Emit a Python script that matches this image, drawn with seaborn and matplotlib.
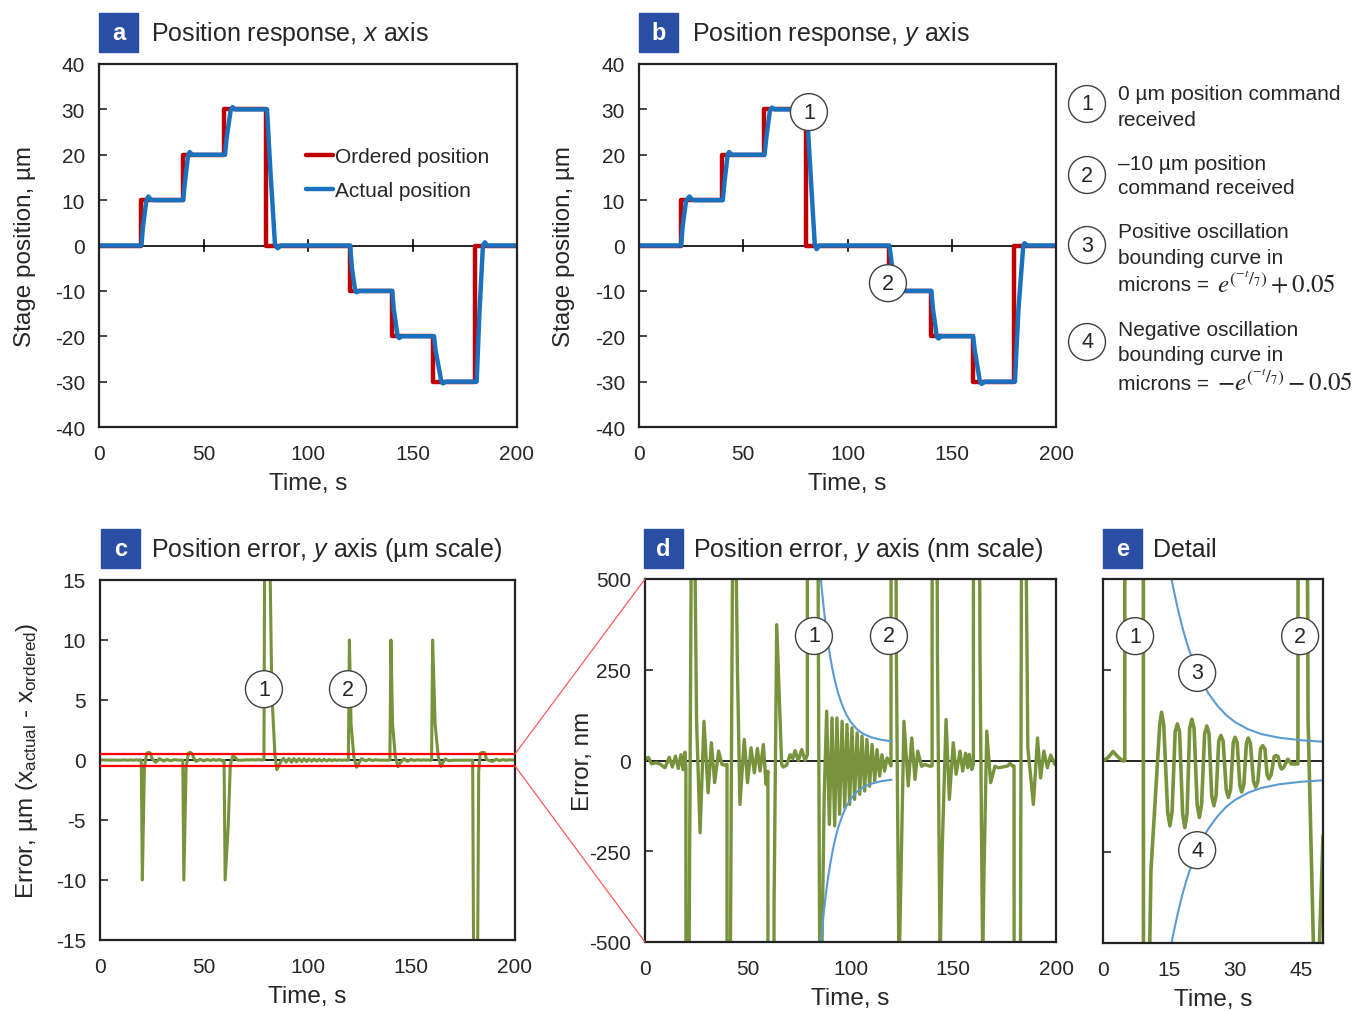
import matplotlib
matplotlib.use("Agg")
import matplotlib.pyplot as plt
from matplotlib.patches import Rectangle, ConnectionPatch
import numpy as np
import seaborn as sns

# ------------------------------------------------------------------
# Data
# ------------------------------------------------------------------
order_t = [0, 20, 40, 60, 80, 120, 140, 160, 180, 200]
order_um = [0, 10, 20, 30, 0, -10, -20, -30, 0, 0]

# actual stage position, x axis (panel a)
xact_t = [0, 20.3, 21.0, 22.6, 23.6, 24.8, 26.5, 40.3, 41.0, 42.6, 43.4, 44.6,
          60.3, 61.0, 63.0, 63.9, 65.2, 80.4, 82.0, 84.2, 85.5, 87.0,
          120.2, 121.0, 122.6, 123.2, 124.6, 140.3, 141.0, 142.9, 143.6, 145.0,
          160.3, 161.0, 163.8, 164.6, 166.0, 180.7, 182.0, 183.7, 184.6, 185.8, 200]
xact_um = [0, 0, 4.0, 9.8, 10.8, 10.1, 10, 10, 13.5, 19.8, 20.6, 20,
           20, 23.5, 29.8, 30.5, 30, 30, 16.5, 0.2, -0.6, 0,
           0, -5, -10, -10.3, -10, -10, -14, -20, -20.4, -20,
           -20, -23, -30, -30.4, -30, -30, -15, 0, 0.7, 0, 0]

# actual stage position, y axis (panel b)
yact_t = [0, 20.2, 21.0, 22.6, 24.2, 25.4, 27.0, 40.2, 41.0, 42.5, 43.2, 44.5,
          60.2, 61.0, 62.8, 63.8, 65.0, 80.5, 82.2, 84.3, 85.2, 86.5,
          120.1, 121.5, 124.0, 125.0, 126.5, 140.2, 141.0, 142.8, 143.6, 145.0,
          160.2, 161.0, 163.5, 164.3, 166.0, 180.3, 182.0, 184.3, 184.9, 186.2, 200]
yact_um = [0, 0, 4.5, 9.9, 10.8, 10.1, 10, 10, 14, 19.9, 20.6, 20,
           20, 23.5, 29.8, 30.4, 30, 30, 16.5, 0.2, -0.8, 0,
           0, -5, -10, -10.2, -10, -10, -14, -20, -20.5, -20,
           -20, -23, -30, -30.5, -30, -30, -14, 0, 0.5, 0, 0]

# position error, y axis (nm) - panels c (shown in um) and d
err_t = [0, 1.6, 3.2, 5.7, 7.6, 9.7, 11.8, 13.3, 14.8, 16.2, 17.5, 18.5, 19.4, 19.9,
         20.4, 21.4, 22.5, 23.4, 24.3, 25.1, 26.8, 28.7, 30.7, 32.3, 33.9, 35.8, 37.5, 38.9, 39.9,
         40.4, 41.5, 42.6, 43.5, 44.4, 45.0, 46.2, 48.3, 49.9, 51.6, 53.2, 54.7, 56.0, 57.6, 58.9, 59.8,
         60.3, 61.8, 62.8, 64.1, 66.5, 67.3, 68.9, 70.6, 71.9, 73.0, 74.6, 76.3, 77.9, 79.0,
         79.6, 81.2, 82.0, 82.8, 84.3, 85.2, 86.3, 87.2, 88.4, 89.7, 91.0, 92.3, 93.4, 94.7,
         95.9, 97.2, 98.3, 99.6, 100.7, 102.0, 103.2, 104.5, 105.6, 106.9, 108.0, 109.3,
         110.5, 111.8, 112.9, 114.2, 115.3, 116.6, 117.8, 119.0,
         119.7, 120.2, 121.0, 122.3, 123.6, 124.6, 126.0, 128.1, 129.8, 131.4, 132.7, 134.6, 136.2, 138.7,
         139.7, 140.2, 141.0, 142.3, 143.6, 144.6, 146.5, 148.1, 150.0, 151.4, 153.3, 154.6, 156.0, 157.0,
         157.8, 159.0,
         159.8, 160.3, 161.5, 163.0, 164.3, 165.0, 166.3, 168.2, 170.3, 172.0, 174.0, 176.5, 177.6, 178.8,
         179.6, 180.4, 181.6, 182.5, 183.2, 184.4, 185.4, 186.3, 189.0, 191.0, 192.5, 194.1, 195.8,
         197.4, 199.5, 200.0]
err_nm = [0, 9, -9, -6, -11, -20, 9, -18, 12, -22, 16, -25, 23, -20,
          -10000, -600, 560, 640, 560, 108, -199, 108, -89, 49, -61, 26, -11, -13, -11,
          -10000, -600, 560, 640, 520, 245, -121, 58, -61, 35, -34, 33, -29, 44, -66, -30,
          -10000, -5500, -400, 374, -11, -18, -13, 16, 5, 27, 0, 30, 0, 16,
          30000, 29000, 15500, 5700, 400, -800, -450, -100, 136, -176, 117, -180, 117, -148,
          108, -130, 99, -121, 90, -107, 76, -93, 67, -84, 58, -71,
          44, -57, 30, -43, 16, -29, 7, -6,
          -15, 10000, 3000, 300, -600, -300, 108, -70, 62, -52, 26, -16, -11, -16,
          -15, 10000, 3000, 300, -550, -250, 113, -107, 49, -38, 26, -29, 20, -20,
          17, -25,
          -10, 10000, 3000, 300, -550, -300, 81, -61, -16, -20, -18, -15, -8, -15,
          -15, -30000, -28000, -1000, 560, 640, 600, 35, -121, 62, -48, 26, -20,
          15, -11, 0]

# detail window (panel e), nm
det_t = [0, 1.2, 2.3, 3.5, 4.6, 4.95, 5.3, 8.5, 9.2, 10.2, 10.9, 12.2, 12.9, 13.3, 13.8,
         14.7, 15.2, 15.7, 16.4, 16.9, 17.4, 18.1, 18.6, 19.1, 19.7, 20.2, 20.7,
         21.4, 21.9, 22.4, 23.1, 23.6, 24.1, 24.7, 25.2, 25.7, 26.3, 26.8, 27.3,
         28.0, 28.5, 29.0, 29.6, 30.0, 30.5, 31.1, 31.5, 32.0, 32.6, 33.0, 33.5,
         34.2, 34.7, 35.2, 35.8, 36.3, 36.8, 37.3, 37.7, 38.2, 38.9, 39.3, 39.8,
         40.3, 40.6, 41.1, 42.0, 42.8, 44.3, 44.8, 45.9, 46.6, 48.2, 48.8, 50.0]
det_nm = [0, 10, 26, 10, 0, 2, 30000, 28000, -800, -820, -300, -40, 100, 134, 100,
          -140, -178, -140, 80, 102, 80, -145, -183, -145, 90, 115, 90,
          -120, -155, -120, 75, 96, 75, -95, -123, -95, 55, 70, 55,
          -78, -100, -78, 50, 65, 50, -66, -85, -66, 49, 63, 49,
          -56, -72, -56, 33, 42, 33, -38, -49, -38, 12, 15, 12,
          -17, -22, -17, 5, -8, -8, 10000, 2500, 120, -700, -650, -205]

# oscillation bounding curve e^(-t/7) + 0.05 um, in nm vs time since command
bound_dt = [4.5, 5.5, 6, 7, 8, 9, 10, 11, 12, 13, 14, 16, 18, 20, 23, 26, 30, 35, 40]
bound_nm = [576, 506, 474, 418, 369, 326, 290, 258, 230, 206, 185, 152, 126, 107,
            87, 74, 64, 57, 53]
cmd_t_d = 80     # command time in panel d
cmd_t_e = 10     # command time in panel e

time_ticks = [0, 50, 100, 150, 200]

# ------------------------------------------------------------------
# Style
# ------------------------------------------------------------------
sns.set_theme(style="white")
plt.rcParams["font.family"] = ["Liberation Sans", "DejaVu Sans"]
plt.rcParams["axes.unicode_minus"] = False
plt.rcParams["mathtext.fontset"] = "custom"
plt.rcParams["mathtext.rm"] = "Liberation Sans"
plt.rcParams["mathtext.it"] = "Liberation Sans:italic"

RED = "#C00000"
BLUE = "#1A72BE"
GREEN = "#77933C"
LBLUE = "#5B9BD5"
PANEL = "#2B4EA5"
CIRCLE = dict(boxstyle="circle,pad=0.37", fc="white", ec="#404040", lw=1)

W, H = 1354, 1012
fig = plt.figure(figsize=(W / 100, H / 100), dpi=100)
renderer = fig.canvas.get_renderer()


def px_axes(x0, y0, x1, y1):
    return fig.add_axes([x0 / W, 1 - y1 / H, (x1 - x0) / W, (y1 - y0) / H])


def style_axes(ax, xlim, ylim, xticks, yticks, ylabel_x, ylabel=None, showy=True):
    ax.set_xlim(xlim)
    ax.set_ylim(ylim)
    ax.set_xticks(xticks)
    ax.set_yticks(yticks)
    if not showy:
        ax.set_yticklabels([])
    ax.tick_params(axis="x", length=0, pad=12, labelsize=15)
    ax.tick_params(axis="y", direction="in", length=6, width=1.2, pad=10,
                   labelsize=15, left=True)
    for s in ax.spines.values():
        s.set_color("#222222")
        s.set_linewidth(1.6)
    ax.axhline(0, color="black", lw=1.2, zorder=1)
    ax.set_xlabel("Time, s", fontsize=17.5)
    ax.xaxis.set_label_coords(0.5, -0.125)
    if ylabel:
        ax.set_ylabel(ylabel, fontsize=17.5)
        ax.yaxis.set_label_coords(ylabel_x, 0.5)
    else:
        ax.set_ylabel("")


def zero_ticks(ax, ticks):
    sec = ax.secondary_xaxis(0.5)
    sec.set_xticks(ticks)
    sec.tick_params(direction="inout", length=9, width=1.2, top=True, bottom=True,
                    labeltop=False, labelbottom=False)
    for s in sec.spines.values():
        s.set_visible(False)


def callout(ax, x, y, n):
    ax.text(x, y, n, ha="center", va="center", fontsize=15.5, zorder=6, bbox=CIRCLE)


def panel_label(letter, x0, y0, title, x_title):
    fig.add_artist(Rectangle((x0 / W, 1 - (y0 + 39) / H), 39 / W, 39 / H,
                             transform=fig.transFigure, color=PANEL))
    fig.text((x0 + 19.5) / W, 1 - (y0 + 20) / H, letter, color="white",
             fontsize=17, fontweight="bold", ha="center", va="center")
    fig.text(x_title / W, 1 - (y0 + 20) / H, title, fontsize=18, va="center")


# ------------------------------------------------------------------
# a / b: position response
# ------------------------------------------------------------------
ax_a = px_axes(99, 65, 517, 428)
sns.lineplot(x=order_t, y=order_um, ax=ax_a, color=RED, lw=3.2,
             drawstyle="steps-post", estimator=None, sort=False, label="Ordered position")
sns.lineplot(x=xact_t, y=xact_um, ax=ax_a, color=BLUE, lw=3.2,
             estimator=None, sort=False, label="Actual position")
style_axes(ax_a, (0, 200), (-40, 40), time_ticks, range(-40, 41, 10), -0.15,
           "Stage position, µm")
zero_ticks(ax_a, [50, 100, 150])
ax_a.legend(loc="upper left", bbox_to_anchor=(0.495, 0.77), frameon=False, fontsize=15,
            handlelength=1.3, handletextpad=0.1, borderpad=0, labelspacing=0.7,
            borderaxespad=0)

ax_b = px_axes(639, 65, 1056, 428)
sns.lineplot(x=order_t, y=order_um, ax=ax_b, color=RED, lw=3.2,
             drawstyle="steps-post", estimator=None, sort=False, legend=False)
sns.lineplot(x=yact_t, y=yact_um, ax=ax_b, color=BLUE, lw=3.2,
             estimator=None, sort=False, legend=False)
style_axes(ax_b, (0, 200), (-40, 40), time_ticks, range(-40, 41, 10), -0.153,
           "Stage position, µm")
zero_ticks(ax_b, [50, 100, 150])
callout(ax_b, 81.5, 29.4, "1")
callout(ax_b, 119.4, -8.3, "2")

panel_label("a", 99, 14, r"Position response, $\mathit{x}$ axis", 151)
panel_label("b", 639, 14, r"Position response, $\mathit{y}$ axis", 692)

# key for the numbered callouts
keys = [
    (105, "1", [(95, "0 µm position command", None), (120, "received", None)]),
    (176, "2", [(165, "–10 µm position", None), (189, "command received", None)]),
    (246, "3", [(232, "Positive oscillation", None), (258, "bounding curve in", None),
                (286, "microns = ", r"$e^{(^{-t}/_{7})} + 0.05$")]),
    (343, "4", [(330, "Negative oscillation", None), (356, "bounding curve in", None),
                (384, "microns = ", r"$-e^{(^{-t}/_{7})} - 0.05$")]),
]
for yc, num, lines in keys:
    fig.text(1087 / W, 1 - yc / H, num, ha="center", va="center", fontsize=15.5,
             bbox=CIRCLE)
    for yl, txt, formula in lines:
        t = fig.text(1118 / W, 1 - yl / H, txt, fontsize=15, va="center")
        if formula:
            bb = t.get_window_extent(renderer)
            fig.text(bb.x1 / W + 0.002, 1 - (yl - 1) / H, formula, fontsize=18,
                     va="center", math_fontfamily="stix")

# ------------------------------------------------------------------
# c: error in um
# ------------------------------------------------------------------
err_um = np.array(err_nm) / 1000.0
ax_c = px_axes(100, 581, 515, 941)
ax_c.axhline(0.5, color="#FF0000", lw=1.6, zorder=3)
ax_c.axhline(-0.5, color="#FF0000", lw=1.6, zorder=3)
sns.lineplot(x=err_t, y=err_um, ax=ax_c, color=GREEN, lw=2.2,
             estimator=None, sort=False, legend=False)
style_axes(ax_c, (0, 200), (-15, 15), time_ticks, range(-15, 16, 5), -0.145,
           r"Error, µm (x$_{\mathrm{actual}}$ - x$_{\mathrm{ordered}}$)")
callout(ax_c, 79.0, 5.9, "1")
callout(ax_c, 119.5, 5.9, "2")

# ------------------------------------------------------------------
# d: error in nm
# ------------------------------------------------------------------
ax_d = px_axes(645, 580, 1056, 943)
sns.lineplot(x=err_t, y=err_nm, ax=ax_d, color=GREEN, lw=2.4,
             estimator=None, sort=False, legend=False)
bt_d = [cmd_t_d + v for v in bound_dt]
sns.lineplot(x=bt_d, y=bound_nm, ax=ax_d, color=LBLUE, lw=1.5,
             estimator=None, sort=False, legend=False)
sns.lineplot(x=bt_d, y=[-v for v in bound_nm], ax=ax_d, color=LBLUE, lw=1.5,
             estimator=None, sort=False, legend=False)
style_axes(ax_d, (0, 200), (-500, 500), time_ticks, [-500, -250, 0, 250, 500], -0.124,
           "Error, nm")
callout(ax_d, 82.2, 343, "1")
callout(ax_d, 118.7, 343, "2")

# ------------------------------------------------------------------
# e: detail
# ------------------------------------------------------------------
ax_e = px_axes(1103, 580, 1323, 944)
sns.lineplot(x=det_t, y=det_nm, ax=ax_e, color=GREEN, lw=2.6,
             estimator=None, sort=False, legend=False)
bt_e = [cmd_t_e + v for v in bound_dt]
sns.lineplot(x=bt_e, y=bound_nm, ax=ax_e, color=LBLUE, lw=1.5,
             estimator=None, sort=False, legend=False)
sns.lineplot(x=bt_e, y=[-v for v in bound_nm], ax=ax_e, color=LBLUE, lw=1.5,
             estimator=None, sort=False, legend=False)
style_axes(ax_e, (0, 50), (-500, 500), [0, 15, 30, 45], [-250, 250], 0, None, showy=False)
callout(ax_e, 7.3, 343, "1")
callout(ax_e, 44.8, 343, "2")
callout(ax_e, 21.4, 242, "3")
callout(ax_e, 21.4, -245, "4")

panel_label("c", 101, 530, r"Position error, $\mathit{y}$ axis (µm scale)", 151)
panel_label("d", 644, 530, r"Position error, $\mathit{y}$ axis (nm scale)", 693)
panel_label("e", 1103, 530, "Detail", 1153)

# zoom connector lines c -> d
for yc, yd in [(0.5, 500), (-0.5, -500)]:
    fig.add_artist(ConnectionPatch(xyA=(200, yc), coordsA=ax_c.transData,
                                   xyB=(0, yd), coordsB=ax_d.transData,
                                   color="#FF5A5A", lw=0.9))

fig.savefig("out.png", dpi=100)
